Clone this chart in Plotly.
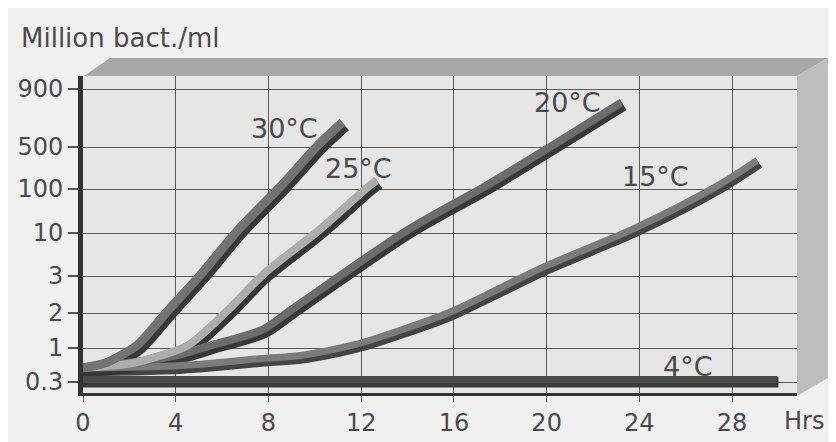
import numpy as np
import plotly.graph_objects as go

# ---- data (million bacteria per ml vs hours) ----
ytick_labels = ["0.3", "1", "2", "3", "10", "100", "500", "900"]
ytick_values = [0.3, 1, 2, 3, 10, 100, 500, 900]
ytick_pos = [11, 45, 80, 117, 160, 204, 246, 304]   # uneven printed scale
xtick_values = [0, 4, 8, 12, 16, 20, 24, 28]

hours_30 = [0, 1.0, 1.7, 2.4, 3.75, 5.2, 6.75, 8.6, 10.25, 11.27]
vals_30 = [0.45, 0.53, 0.70, 1, 2, 3, 10, 100, 500, 625]

hours_25 = [0, 2.15, 3.44, 4.6, 6.32, 7.9, 10.25, 12.4, 12.75]
vals_25 = [0.45, 0.53, 0.70, 1, 2, 3, 10, 100, 126]

hours_20 = [0, 2.58, 4.30, 5.59, 7.83, 9.03, 14.06, 17.42, 20.2, 23.31]
vals_20 = [0.45, 0.57, 0.73, 1, 1.37, 2, 10, 100, 447, 766]

hours_15 = [0, 4.30, 7.83, 9.46, 11.83, 13.76, 15.87, 18.06, 19.91, 21.94, 23.96, 27.4, 29.16]
vals_15 = [0.45, 0.49, 0.63, 0.70, 1.02, 1.35, 1.92, 2.55, 3.55, 6.2, 11.7, 100, 271]

hours_4 = [0, 30.0]
vals_4 = [0.3, 0.3]

labels = ["30°C", "25°C", "20°C", "15°C", "4°C"]
label_x = [8.69, 11.9, 20.9, 24.7, 26.1]
label_y = [265, 225, 291, 217, 27]


def to_axis(v):
    return np.interp(np.log10(v), np.log10(ytick_values), ytick_pos)


XR = [0, 30.8]
YR = [0, 317]
DX = 1.8 / 23.25
DY = 2.6

fig = go.Figure()

series = [
    (hours_4, vals_4, "#3b3b3b", "#4a4a4a", 11, 7),
    (hours_15, vals_15, "#444444", "#7b7b7b", 11, 7),
    (hours_20, vals_20, "#383838", "#6c6c6c", 12, 8),
    (hours_25, vals_25, "#363636", "#adadad", 13, 8),
    (hours_30, vals_30, "#383838", "#737373", 14, 9),
]
for h, v, dark, light, wd, wl in series:
    y = to_axis(np.array(v, dtype=float))
    fig.add_trace(go.Scatter(x=h, y=y, mode="lines",
                             line=dict(color=dark, width=wd, shape="spline", smoothing=0.9),
                             hoverinfo="skip", showlegend=False))
    fig.add_trace(go.Scatter(x=h, y=y, mode="lines", xaxis="x2", yaxis="y2",
                             line=dict(color=light, width=wl, shape="spline", smoothing=0.9),
                             hoverinfo="skip", showlegend=False))

font_family = "DejaVu Sans"
txt_color = "#4a4a4a"

annotations = []
for t, x, y in zip(labels, label_x, label_y):
    annotations.append(dict(x=x, y=y, xref="x", yref="y", text=t, showarrow=False,
                            font=dict(family=font_family, size=27, color=txt_color)))
annotations.append(dict(x=-0.09, y=1.12, xref="paper", yref="paper", xanchor="left",
                        yanchor="middle", text="Million bact./ml", showarrow=False,
                        font=dict(family=font_family, size=26, color=txt_color)))
annotations.append(dict(x=1.0098, y=-0.088, xref="paper", yref="paper", xanchor="center",
                        yanchor="middle", text="Hrs", showarrow=False,
                        font=dict(family=font_family, size=24, color=txt_color)))

shapes = [
    dict(type="path", xref="paper", yref="paper", layer="below",
         path="M 0.0014,1 L 0.0377,1.0568 L 1.0433,1.0568 L 1,1 Z",
         fillcolor="#a8a8a8", line=dict(width=0)),
    dict(type="path", xref="paper", yref="paper", layer="below",
         path="M 1,1 L 1.0433,1.0568 L 1.0433,0.0473 L 1,-0.0095 Z",
         fillcolor="#bdbdbd", line=dict(width=0)),
]

fig.update_layout(
    width=828, height=434,
    margin=dict(l=75, r=39, t=68, b=49, autoexpand=False),
    paper_bgcolor="#f1f1f1",
    plot_bgcolor="#e6e6e6",
    showlegend=False,
    annotations=annotations,
    shapes=shapes,
    xaxis=dict(range=XR, tickvals=xtick_values, showgrid=True, gridcolor="#5a5a5a",
               gridwidth=1, zeroline=False, showline=True, linecolor="#333333", linewidth=3,
               ticks="outside", ticklen=6, tickcolor="#555555", tickwidth=1,
               ticklabelstandoff=0, automargin=False,
               tickfont=dict(family=font_family, size=24, color=txt_color)),
    yaxis=dict(range=YR, tickvals=ytick_pos, ticktext=ytick_labels, showgrid=True,
               gridcolor="#5a5a5a", gridwidth=1, zeroline=False, showline=True,
               linecolor="#333333", linewidth=5, ticks="outside", ticklen=10,
               tickcolor="#555555", tickwidth=1.5, automargin=False,
               tickfont=dict(family=font_family, size=24, color=txt_color)),
    xaxis2=dict(range=[XR[0] + DX, XR[1] + DX], overlaying="x", visible=False),
    yaxis2=dict(range=[YR[0] - DY, YR[1] - DY], overlaying="y", visible=False),
)

fig.write_html("out.html")
